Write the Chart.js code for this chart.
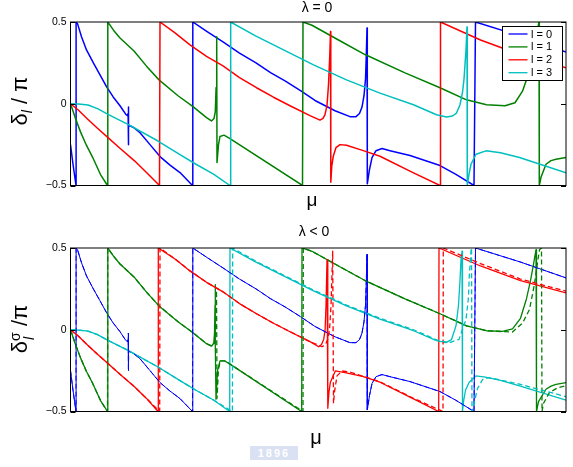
<!DOCTYPE html>
<html><head><meta charset="utf-8">
<script src="https://cdn.jsdelivr.net/npm/chart.js@4/dist/chart.umd.min.js"></script>
<style>
html,body{margin:0;padding:0;background:#fff;}
#wrap{position:relative;width:573px;height:467px;overflow:hidden;font-family:"Liberation Sans",Arial,Helvetica,sans-serif;color:#000;}
canvas{position:absolute;left:0;}
.t{position:absolute;white-space:nowrap;line-height:1;}
.rot{transform:translate(-50%,-50%) rotate(-90deg);}
.wm{position:absolute;left:250px;top:446px;width:48px;height:14px;background:#d9e1f3;color:#fff;font:bold 11px "Liberation Sans",Arial,sans-serif;text-align:center;line-height:14px;letter-spacing:2px;}
</style></head><body>
<div id="wrap">
<div class="wm">1896</div>
<canvas id="c1" width="573" height="215" style="top:0;width:573px;height:215px"></canvas>
<canvas id="c2" width="573" height="241" style="top:226px;width:573px;height:241px"></canvas>
<div class="t" style="left:317px;top:0px;font-size:14px;transform:translateX(-50%)">λ = 0</div>
<div class="t" style="left:314px;top:224px;font-size:14px;transform:translateX(-50%)">λ &lt; 0</div>
<div class="t" style="left:312px;top:190px;font-size:19px;transform:translateX(-50%)">μ</div>
<div class="t" style="left:316px;top:427px;font-size:20px;transform:translateX(-50%)">μ</div>
<div class="t rot" style="left:20px;top:101px;font-size:22px;">δ<span style="font-size:14px;font-style:italic;position:relative;top:5px">l</span> / π</div>
<div class="t rot" style="left:20px;top:329px;font-size:22px;">δ<span style="display:inline-block;position:relative;width:9px;height:10px"><span style="position:absolute;left:0;top:-9px;font-size:14px">σ</span><span style="position:absolute;left:1px;top:5px;font-size:14px;font-style:italic">l</span></span> /π</div>
</div>
<script>
// ---------------- data (μ in arbitrary units, δ in units of π) ----------------
const yTicks = [-0.5, 0, 0.5];
const seriesLabels = ['l = 0', 'l = 1', 'l = 2', 'l = 3'];
const seriesColors = ['#0000ff', '#008000', '#ff0000', '#00bfbf'];
const muMin = 0, muMax = 495.5;

// λ = 0
const top_l0 = [[0,-0.25],[2.5,-0.37],[5.5,-0.5],[5.6,0.5],[7,0.49],[11,0.41],[16,0.329],[23,0.248],[29.5,0.177],[36,0.105],[42.5,0.043],[49.5,-0.012],[55.5,-0.067],[57,-0.072],[57.6,-0.06],[57.8,-0.02],[57.9,-0.25],[58.3,-0.13],[63,-0.145],[69.5,-0.177],[79.5,-0.25],[89.5,-0.323],[99.5,-0.375],[109.5,-0.421],[122,-0.5],[122.3,0.5],[137,0.44],[152.5,0.378],[169,0.31],[185.5,0.25],[200,0.19],[214.5,0.14],[230,0.08],[244.5,0.02],[264.5,-0.043],[279.5,-0.079],[285.5,-0.079],[289,-0.06],[291.5,-0.02],[293.5,0.049],[295,0.15],[295.8,0.3],[296.5,0.463],[296.8,-0.49],[299,-0.402],[301.5,-0.329],[305.5,-0.287],[311.5,-0.274],[319.5,-0.287],[339.5,-0.317],[369.5,-0.378],[385,-0.43],[403.5,-0.5],[405,0.5],[449.5,0.415],[495.5,0.317]];
const top_l1 = [[0,0],[5,-0.09],[10,-0.172],[16,-0.255],[22,-0.326],[30,-0.433],[37,-0.5],[37.3,0.5],[43,0.45],[49.5,0.402],[63.5,0.323],[76,0.23],[88.5,0.146],[107.5,0.049],[122.5,-0.018],[136,-0.085],[141,-0.105],[143.5,-0.09],[144.8,-0.05],[145.6,0.1],[146.2,0.41],[146.5,-0.36],[148,-0.25],[149.5,-0.2],[153.5,-0.192],[159.5,-0.213],[232,-0.5],[232.5,0.5],[241.5,0.48],[268,0.39],[294.5,0.301],[334.5,0.189],[369.5,0.098],[396,0.024],[416,-0.006],[434.5,-0.012],[444.5,0.006],[452,0.077],[459,0.2],[462.5,0.329],[465.5,0.408],[468.5,0.5],[468.8,-0.5],[470.5,-0.45],[475.5,-0.37],[480.5,-0.348],[485.5,-0.34],[495.5,-0.329]];
const top_l2 = [[0,0],[8,-0.04],[17.5,-0.096],[27,-0.15],[37.5,-0.207],[50,-0.275],[64,-0.349],[76,-0.42],[89,-0.5],[89.5,0.5],[104.5,0.433],[119.5,0.36],[136,0.29],[152.5,0.232],[169,0.16],[186,0.098],[203,0.04],[219.5,-0.012],[239.5,-0.073],[249.5,-0.1],[252.5,-0.09],[254.5,-0.067],[256.5,-0.01],[258,0.116],[259.3,0.3],[260,0.442],[260.3,-0.48],[261.3,-0.38],[262.8,-0.321],[265.5,-0.268],[269.5,-0.25],[276,-0.254],[292,-0.285],[309.5,-0.321],[342.5,-0.421],[369.5,-0.5],[370,0.5],[410,0.39],[450,0.3],[495.5,0.22]];
const top_l3 = [[0,0],[8,-0.002],[17.5,-0.008],[27,-0.03],[37.5,-0.065],[57.5,-0.126],[87.5,-0.228],[109.5,-0.311],[125.5,-0.37],[143,-0.43],[159.5,-0.5],[160.2,0.5],[185,0.415],[209.5,0.34],[243,0.238],[276,0.146],[309.5,0.065],[343,-0.006],[366,-0.067],[376,-0.081],[382,-0.075],[386,-0.057],[389.5,-0.006],[392,0.07],[393.5,0.15],[395.5,0.329],[396.5,0.47],[396.8,-0.5],[398.5,-0.43],[400.5,-0.37],[405.5,-0.309],[415.5,-0.288],[430,-0.3],[449,-0.329],[495.5,-0.423]];

// λ < 0 : solid (one spin) and dashed (other spin)
const bot_l0_solid = top_l0;
const bot_l0_dash = top_l0;
const bot_l1_solid = [[0,0],[5,-0.09],[10,-0.172],[16,-0.255],[22,-0.326],[30,-0.433],[37,-0.5],[37.3,0.5],[43,0.45],[49.5,0.402],[63.5,0.323],[76,0.23],[88.5,0.146],[107.5,0.049],[122.5,-0.018],[136,-0.085],[141.2,-0.1],[143.3,-0.08],[144,-0.02],[144.5,0.15],[144.6,0.276],[145,-0.1],[145.5,-0.425],[147,-0.25],[149.5,-0.19],[154,-0.19],[159.5,-0.21],[231.2,-0.5],[231.5,0.5],[241.5,0.48],[268,0.39],[294.5,0.301],[334.5,0.189],[369.5,0.098],[396,0.024],[416,-0.006],[432,-0.01],[442,0.005],[450,0.07],[456,0.19],[460,0.3],[463,0.4],[465.5,0.49],[466,-0.5],[468,-0.44],[475.5,-0.364],[480.5,-0.345],[485.5,-0.334],[495.5,-0.323]];
const bot_l1_dash = [[0,0],[5,-0.09],[10,-0.172],[16,-0.255],[22,-0.326],[30,-0.433],[37,-0.5],[37.3,0.5],[43,0.45],[49.5,0.402],[63.5,0.323],[76,0.23],[88.5,0.146],[107.5,0.049],[122.5,-0.018],[136,-0.085],[141.5,-0.1],[144,-0.08],[145.3,0],[145.8,0.15],[146,0.24],[146.3,-0.1],[146.5,-0.42],[148,-0.24],[150,-0.19],[154,-0.19],[159.5,-0.21],[232.5,-0.5],[232.8,0.5],[241.5,0.48],[268,0.39],[294.5,0.301],[334.5,0.189],[369.5,0.098],[396,0.024],[416,-0.006],[434.5,-0.012],[442,-0.014],[452,0.04],[459,0.124],[464,0.28],[467,0.41],[469,0.49],[471,0.5],[471.5,-0.5],[473,-0.45],[479,-0.384],[487,-0.355],[495.5,-0.343]];
const bot_l2_solid = [[0,0],[8,-0.04],[17.5,-0.096],[27,-0.15],[37.5,-0.207],[50,-0.275],[64,-0.349],[76,-0.42],[87.5,-0.5],[87.8,0.5],[104.5,0.433],[119.5,0.36],[136,0.29],[152.5,0.232],[169,0.16],[186,0.098],[203,0.04],[219.5,-0.012],[239.5,-0.073],[248.2,-0.104],[251,-0.09],[253.2,-0.059],[254.6,0],[255.5,0.146],[256.5,0.429],[257.3,-0.48],[258.5,-0.38],[259.8,-0.323],[264.8,-0.252],[274.5,-0.262],[292,-0.285],[309.5,-0.321],[342.5,-0.421],[368.2,-0.5],[368.5,0.5],[410,0.39],[450,0.3],[495.5,0.226]];
const bot_l2_dash = [[0,0],[8,-0.04],[17.5,-0.096],[27,-0.15],[37.5,-0.207],[50,-0.275],[64,-0.349],[76,-0.42],[89.2,-0.5],[89.5,0.5],[104.5,0.433],[119.5,0.36],[136,0.29],[152.5,0.232],[169,0.16],[186,0.098],[203,0.04],[219.5,-0.012],[239.5,-0.073],[251.5,-0.104],[255,-0.09],[257.5,-0.055],[259,0],[260.5,0.146],[262.2,0.48],[263,-0.45],[264,-0.38],[266.5,-0.282],[271.5,-0.252],[280,-0.26],[292,-0.283],[309.5,-0.318],[342.5,-0.418],[372.5,-0.5],[372.8,0.5],[410,0.405],[450,0.31],[495.5,0.236]];
const bot_l3_solid = [[0,0],[8,-0.002],[17.5,-0.008],[27,-0.03],[37.5,-0.065],[57.5,-0.126],[87.5,-0.228],[109.5,-0.311],[125.5,-0.37],[143,-0.43],[159.2,-0.5],[159.5,0.5],[185,0.415],[209.5,0.34],[243,0.238],[276,0.146],[309.5,0.065],[343,-0.006],[366,-0.067],[375.5,-0.079],[381,-0.06],[385.5,0.024],[388,0.15],[389.5,0.3],[390.5,0.429],[391.5,0.48],[392,-0.5],[393,-0.44],[395,-0.37],[398.5,-0.323],[405.5,-0.282],[415,-0.29],[430,-0.31],[449,-0.343],[495.5,-0.43]];
const bot_l3_dash = [[0,0],[8,-0.002],[17.5,-0.008],[27,-0.03],[37.5,-0.065],[57.5,-0.126],[87.5,-0.228],[109.5,-0.311],[125.5,-0.37],[143,-0.43],[161.9,-0.5],[162.2,0.5],[185,0.42],[209.5,0.345],[243,0.243],[276,0.151],[309.5,0.07],[343,0],[366,-0.062],[379,-0.079],[388.5,-0.059],[395.5,0.063],[398,0.2],[398.8,0.329],[400.5,0.48],[401,0.5],[401.5,-0.5],[403.8,-0.445],[407,-0.36],[412.2,-0.303],[418.8,-0.293],[449,-0.333],[495.5,-0.409]];

// ---------------- chart helpers ----------------
const FONT = '"Liberation Sans", Arial, Helvetica, sans-serif';
function fmt(v){ if (v === 0) return '0'; return (v < 0 ? '\u2212' : '') + Math.abs(v).toString(); }
function ds(label, pts, color, width, dash, order){
  return { label, data: pts.map(p => ({x: p[0], y: p[1]})), borderColor: color, backgroundColor: color,
           borderWidth: width, borderDash: dash || [], showLine: true, pointRadius: 0, fill: false, order };
}
const framePlugin = {
  id: 'frame',
  afterDatasetsDraw(chart, args, opts){
    const {ctx, chartArea: a, scales: {y}} = chart;
    ctx.save();
    ctx.strokeStyle = '#000'; ctx.lineWidth = 1;
    ctx.strokeRect(a.left, a.top, a.right - a.left, a.bottom - a.top);
    ctx.beginPath();
    yTicks.forEach(v => { const py = Math.round(y.getPixelForValue(v)) + 0.5;
      ctx.moveTo(a.left, py); ctx.lineTo(a.left + 5, py);
      ctx.moveTo(a.right - 5, py); ctx.lineTo(a.right, py); });
    ctx.stroke();
    if (opts.legend){
      const bx = 502.5, by = 26.5, bw = 60, bh = 54;
      ctx.fillStyle = '#fff'; ctx.fillRect(bx, by, bw, bh);
      ctx.strokeRect(bx, by, bw, bh);
      ctx.font = '11px ' + FONT; ctx.textBaseline = 'middle'; ctx.textAlign = 'left';
      seriesLabels.forEach((lab, i) => {
        const yy = by + 7.5 + i * 12.9;
        ctx.strokeStyle = seriesColors[i]; ctx.lineWidth = 1.3;
        ctx.beginPath(); ctx.moveTo(bx + 6, yy); ctx.lineTo(bx + 25, yy); ctx.stroke();
        ctx.fillStyle = '#000'; ctx.fillText(lab, bx + 28.5, yy + 0.5);
      });
    }
    ctx.restore();
  }
};
function opts(padBottom, legend){
  return {
    responsive: false, animation: false,
    layout: { padding: { top: 22, right: 7, bottom: padBottom, left: 0 } },
    plugins: { legend: { display: false }, tooltip: { enabled: false }, frame: { legend } },
    elements: { point: { radius: 0 }, line: { tension: 0, borderJoinStyle: 'round', borderCapStyle: 'butt' } },
    scales: {
      x: { type: 'linear', min: muMin, max: muMax, display: false },
      y: { min: -0.5, max: 0.5, afterFit: s => { s.width = 70.5; },
           afterBuildTicks: s => { s.ticks = yTicks.map(v => ({value: v})); },
           grid: { display: false, drawTicks: false }, border: { display: false },
           ticks: { padding: 4, color: '#000', font: { family: FONT, size: 10.5 }, callback: v => fmt(v) } }
    }
  };
}

const topSeries = [top_l0, top_l1, top_l2, top_l3];
new Chart(document.getElementById('c1'), {
  type: 'scatter',
  data: { datasets: topSeries.map((s, i) => ds(seriesLabels[i], s, seriesColors[i], 1.5, null, -i)) },
  options: opts(29.5, true),
  plugins: [framePlugin]
});

const botSolid = [bot_l0_solid, bot_l1_solid, bot_l2_solid, bot_l3_solid];
const botDash = [bot_l0_dash, bot_l1_dash, bot_l2_dash, bot_l3_dash];
const botSets = [];
botSolid.forEach((s, i) => botSets.push(ds(seriesLabels[i], s, seriesColors[i], i === 0 ? 1 : 1.3, null, -i)));
botDash.forEach((s, i) => botSets.push(ds(seriesLabels[i] + ' (dashed)', s, seriesColors[i], i === 0 ? 1 : 1.3, [5, 3], -10 - i)));
new Chart(document.getElementById('c2'), {
  type: 'scatter',
  data: { datasets: botSets },
  options: opts(55.5, false),
  plugins: [framePlugin]
});
</script>
</body></html>
